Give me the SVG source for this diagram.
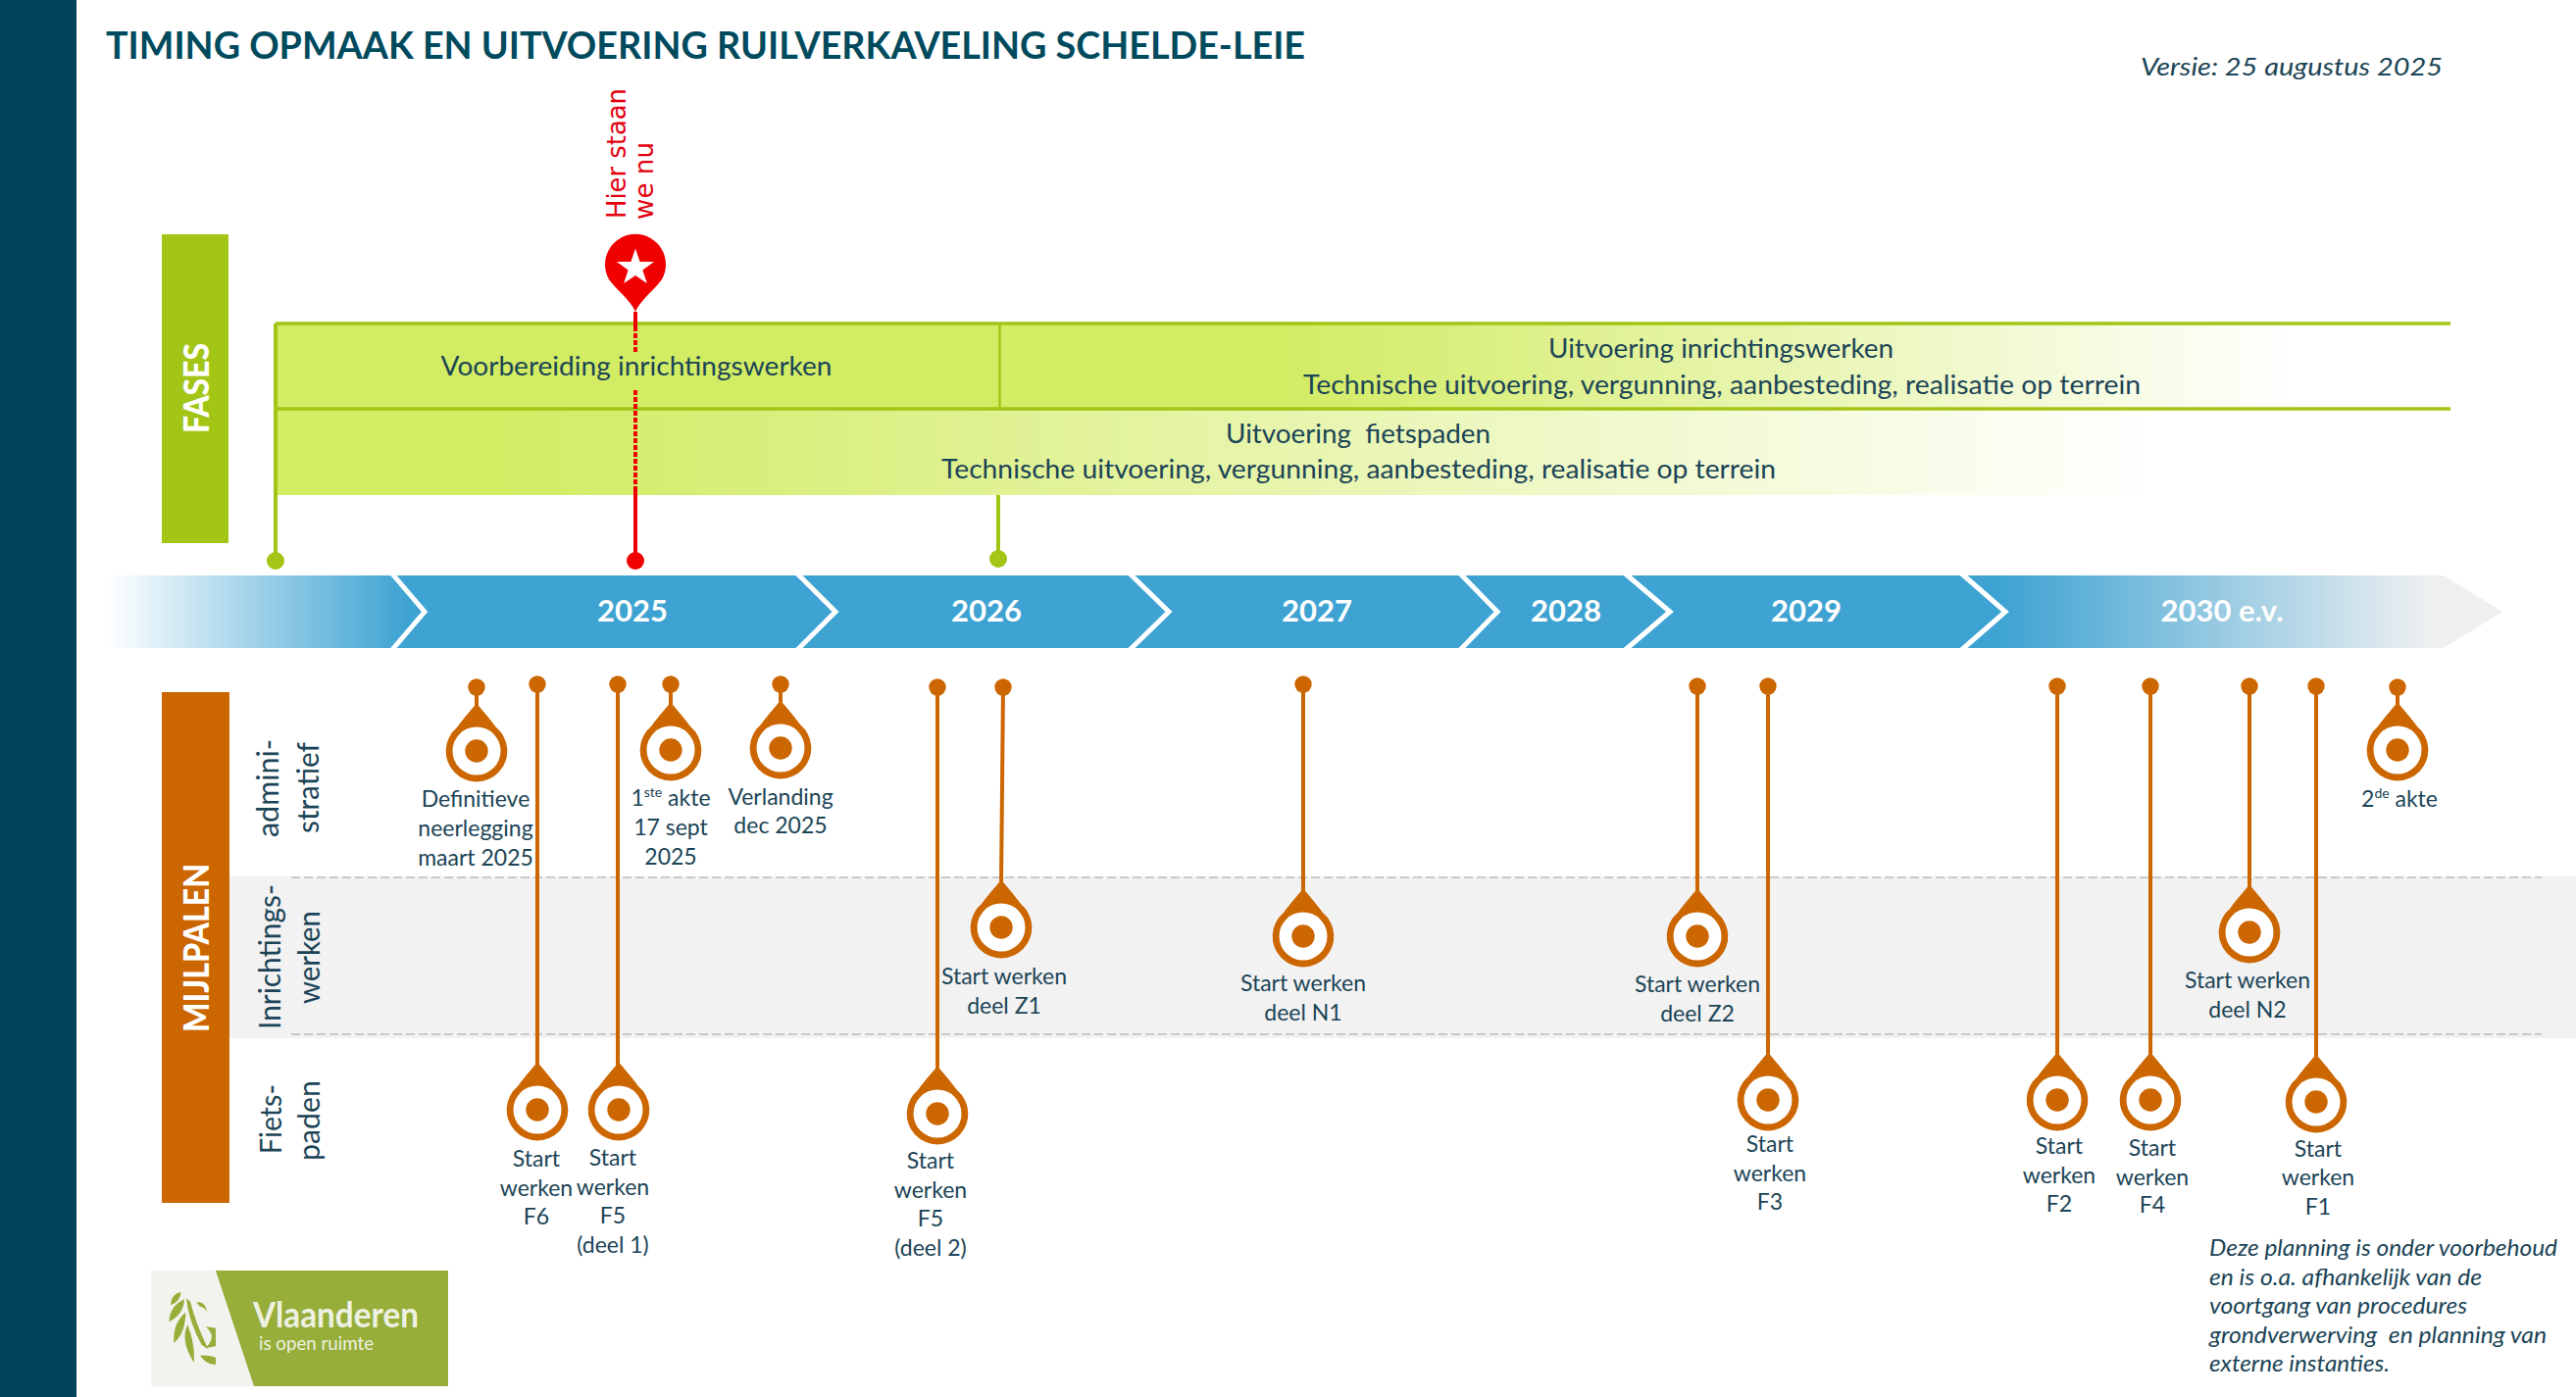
<svg xmlns="http://www.w3.org/2000/svg" width="2627" height="1425" viewBox="0 0 2627 1425">
<style>
text{font-family:Lato,"Liberation Sans",sans-serif;fill:#1b4456}
.lab{font-size:23px;text-anchor:middle}
.band{font-size:27px;white-space:pre}
.row{font-size:30px}
.year{font-size:31px;font-weight:700;fill:#fff;text-anchor:middle}
.note{font-size:22.5px;font-style:italic}
.org{stroke:#cc6600;stroke-width:4;fill:none}
.dot{fill:#cc6600}
.chev{fill:none;stroke:#fff;stroke-width:5}
.grn{stroke:#a2c516;fill:none}
.red{stroke:#f00000;fill:none;stroke-width:4}
.dash{stroke:#c9c9c9;stroke-width:2;stroke-dasharray:9 4;fill:none}
</style>
<defs>
<linearGradient id="gArrow" gradientUnits="userSpaceOnUse" x1="110" y1="0" x2="2552" y2="0">
<stop offset="0" stop-color="#fff"/><stop offset="0.125" stop-color="#3ea3d2"/><stop offset="0.79" stop-color="#3ea3d2"/><stop offset="0.97" stop-color="#eef0f1"/><stop offset="1" stop-color="#efefef"/>
</linearGradient>
<linearGradient id="gBand1" gradientUnits="userSpaceOnUse" x1="1021" y1="0" x2="2340" y2="0">
<stop offset="0" stop-color="#d2ec64"/><stop offset="0.22" stop-color="#d2ec64"/><stop offset="1" stop-color="#fff"/>
</linearGradient>
<linearGradient id="gBand2" gradientUnits="userSpaceOnUse" x1="283" y1="0" x2="2200" y2="0">
<stop offset="0" stop-color="#d2ec64"/><stop offset="0.12" stop-color="#d2ec64"/><stop offset="1" stop-color="#fff"/>
</linearGradient>
<g id="pin">
<path class="dot" d="M0-49C5-42 12-35 20-24A31.300 31.300 0 1 1-20-24C-12-35-5-42 0-49Z"/>
<circle r="24.5" fill="#fff"/><circle r="11.7" class="dot"/>
</g>
</defs>

<rect id="sidebar" x="0" y="0" width="78" height="1425" fill="#00445b"/>
<text id="title" x="108" y="60" font-size="38" font-weight="700" style="fill:#004a5e" textLength="1223" lengthAdjust="spacingAndGlyphs">TIMING OPMAAK EN UITVOERING RUILVERKAVELING SCHELDE-LEIE</text>
<text id="versie" x="2183" y="77" font-size="26" font-style="italic" textLength="308" lengthAdjust="spacingAndGlyphs">Versie: 25 augustus 2025</text>

<g id="rows">
<rect x="234" y="894" width="2393" height="165" fill="#f2f2f2"/>
<path class="dash" d="M297 895H2592M297 1055H2592"/>
</g>

<g id="fases">
<rect x="165" y="239" width="68" height="315" fill="#a2c516"/>
<text transform="translate(213 442) rotate(-90)" font-size="36" font-weight="900" style="fill:#fff" textLength="92" lengthAdjust="spacingAndGlyphs">FASES</text>
</g>

<g id="bands">
<rect x="281" y="330" width="740" height="87" fill="#d2ec64"/>
<rect x="1020" y="330" width="1479" height="87" fill="url(#gBand1)"/>
<rect x="281" y="417" width="2218" height="88" fill="url(#gBand2)"/>
<path class="grn" stroke-width="3.5" d="M281 330H2499M281 417H2499"/>
<path class="grn" stroke-width="2.5" d="M1019.5 330V417"/>
<text class="band" x="449.5" y="383" textLength="399" lengthAdjust="spacingAndGlyphs">Voorbereiding inrichtingswerken</text>
<text class="band" x="1579" y="365" textLength="352" lengthAdjust="spacingAndGlyphs">Uitvoering inrichtingswerken</text>
<text class="band" x="1329" y="402" textLength="854" lengthAdjust="spacingAndGlyphs">Technische uitvoering, vergunning, aanbesteding, realisatie op terrein</text>
<text class="band" x="1250" y="452" textLength="270" lengthAdjust="spacingAndGlyphs">Uitvoering  fietspaden</text>
<text class="band" x="960" y="488" textLength="851" lengthAdjust="spacingAndGlyphs">Technische uitvoering, vergunning, aanbesteding, realisatie op terrein</text>
</g>

<g id="timeline">
<path d="M110 587H2492L2552 624L2492 661H110Z" fill="url(#gArrow)"/>
<path class="chev" d="M398 583L433 624L398 665M811 583L852 624L811 665M1150 583L1192 624L1150 665M1487 583L1527 624L1487 665M1655 583L1703 624L1655 665M1998 583L2045 624L1998 665"/>
<text class="year" x="645" y="634">2025</text>
<text class="year" x="1006" y="634">2026</text>
<text class="year" x="1343" y="634">2027</text>
<text class="year" x="1597" y="634">2028</text>
<text class="year" x="1842" y="634">2029</text>
<text class="year" x="2266" y="634">2030 e.v.</text>
</g>

<g id="connectors">
<g class="grn" stroke-width="4">
<path d="M281 330V571"/><path d="M1018 505V570"/>
</g>
<circle cx="281" cy="572" r="9" fill="#a2c516"/>
<circle cx="1018" cy="570" r="9" fill="#a2c516"/>
<path class="red" d="M648 318V333"/>
<path class="red" stroke-dasharray="5 2" d="M648 333V359M648 398V501"/>
<path class="red" d="M648 501V570"/>
<circle cx="648" cy="572" r="9" fill="#f00000"/>
<g>
<path class="org" stroke-width="3" d="M486 701V720"/><circle class="dot" cx="486" cy="701" r="8.7"/>
<path class="org" d="M548 698V1090"/><circle class="dot" cx="548" cy="698" r="8.7"/>
<path class="org" d="M630 698V1090"/><circle class="dot" cx="630" cy="698" r="8.7"/>
<path class="org" stroke-width="3" d="M684 698V720"/><circle class="dot" cx="684" cy="698" r="8.7"/>
<path class="org" stroke-width="3" d="M796 698V720"/><circle class="dot" cx="796" cy="698" r="8.7"/>
<path class="org" d="M956 701V1092"/><circle class="dot" cx="956" cy="701" r="8.7"/>
<path class="org" d="M1023 701L1021 902"/><circle class="dot" cx="1023" cy="701" r="8.7"/>
<path class="org" d="M1329 698V910"/><circle class="dot" cx="1329" cy="698" r="8.7"/>
<path class="org" d="M1731 700V910"/><circle class="dot" cx="1731" cy="700" r="8.7"/>
<path class="org" d="M1803 700V1080"/><circle class="dot" cx="1803" cy="700" r="8.7"/>
<path class="org" d="M2098 700V1080"/><circle class="dot" cx="2098" cy="700" r="8.7"/>
<path class="org" d="M2193 700V1080"/><circle class="dot" cx="2193" cy="700" r="8.7"/>
<path class="org" d="M2294 700V905"/><circle class="dot" cx="2294" cy="700" r="8.7"/>
<path class="org" d="M2362 700V1080"/><circle class="dot" cx="2362" cy="700" r="8.7"/>
<path class="org" stroke-width="3" d="M2445 701V720"/><circle class="dot" cx="2445" cy="701" r="8.7"/>
</g>
</g>

<g id="marker-nu">
<path d="M648 318C643 306 628 295 621 285A31 31 0 1 1 675 285C668 295 653 306 648 318Z" fill="#f00000"/>
<path fill="#fff" d="M648 253.500L652.600 267 667 267 655.400 275.500 659.800 289 648 281 636.200 289 640.600 275.500 629 267 643.400 267Z"/>
<text transform="translate(638 223) rotate(-90)" font-size="26" style="font-family:'DejaVu Sans',sans-serif;fill:#e3000f" textLength="133" lengthAdjust="spacingAndGlyphs">Hier staan</text>
<text transform="translate(666 224) rotate(-90)" font-size="26" style="font-family:'DejaVu Sans',sans-serif;fill:#e3000f" textLength="79" lengthAdjust="spacingAndGlyphs">we nu</text>
</g>

<g id="mijlpalen">
<rect x="165" y="706" width="69" height="521" fill="#cc6600"/>
<text transform="translate(213 1053) rotate(-90)" font-size="36" font-weight="900" style="fill:#fff" textLength="172" lengthAdjust="spacingAndGlyphs">MIJLPALEN</text>
</g>

<g id="row-labels">
<text class="row" transform="translate(284 854) rotate(-90)" textLength="100" lengthAdjust="spacingAndGlyphs">admini-</text>
<text class="row" transform="translate(325 850) rotate(-90)" textLength="93" lengthAdjust="spacingAndGlyphs">stratief</text>
<text class="row" transform="translate(286 1050) rotate(-90)" textLength="148" lengthAdjust="spacingAndGlyphs">Inrichtings-</text>
<text class="row" transform="translate(326 1024) rotate(-90)" textLength="95" lengthAdjust="spacingAndGlyphs">werken</text>
<text class="row" transform="translate(287 1177) rotate(-90)" textLength="71" lengthAdjust="spacingAndGlyphs">Fiets-</text>
<text class="row" transform="translate(326 1184) rotate(-90)" textLength="82" lengthAdjust="spacingAndGlyphs">paden</text>
</g>

<g id="m-definitieve"><use href="#pin" x="486" y="766"/><text class="lab"><tspan x="485" y="823">Definitieve</tspan><tspan x="485" y="853">neerlegging</tspan><tspan x="485" y="883">maart 2025</tspan></text></g>
<g id="m-f6"><use href="#pin" x="548" y="1132"/><text class="lab"><tspan x="547" y="1190">Start</tspan><tspan x="547" y="1220">werken</tspan><tspan x="547" y="1249">F6</tspan></text></g>
<g id="m-f5-1"><use href="#pin" x="631" y="1132"/><text class="lab"><tspan x="625" y="1189">Start</tspan><tspan x="625" y="1219">werken</tspan><tspan x="625" y="1248">F5</tspan><tspan x="625" y="1278">(deel 1)</tspan></text></g>
<g id="m-akte1"><use href="#pin" x="684" y="765"/><text class="lab"><tspan x="684" y="822">1<tspan font-size="14" dy="-9">ste</tspan><tspan dy="9"> akte</tspan></tspan><tspan x="684" y="852">17 sept</tspan><tspan x="684" y="882">2025</tspan></text></g>
<g id="m-verlanding"><use href="#pin" x="796" y="763"/><text class="lab"><tspan x="796" y="821">Verlanding</tspan><tspan x="796" y="850">dec 2025</tspan></text></g>
<g id="m-f5-2"><use href="#pin" x="956" y="1136"/><text class="lab"><tspan x="949" y="1192">Start</tspan><tspan x="949" y="1222">werken</tspan><tspan x="949" y="1251">F5</tspan><tspan x="949" y="1281">(deel 2)</tspan></text></g>
<g id="m-z1"><use href="#pin" x="1021" y="946"/><text class="lab"><tspan x="1024" y="1004">Start werken</tspan><tspan x="1024" y="1034">deel Z1</tspan></text></g>
<g id="m-n1"><use href="#pin" x="1329" y="955"/><text class="lab"><tspan x="1329" y="1011">Start werken</tspan><tspan x="1329" y="1041">deel N1</tspan></text></g>
<g id="m-z2"><use href="#pin" x="1731" y="955"/><text class="lab"><tspan x="1731" y="1012">Start werken</tspan><tspan x="1731" y="1042">deel Z2</tspan></text></g>
<g id="m-f3"><use href="#pin" x="1803" y="1122"/><text class="lab"><tspan x="1805" y="1175">Start</tspan><tspan x="1805" y="1205">werken</tspan><tspan x="1805" y="1234">F3</tspan></text></g>
<g id="m-f2"><use href="#pin" x="2098" y="1122"/><text class="lab"><tspan x="2100" y="1177">Start</tspan><tspan x="2100" y="1207">werken</tspan><tspan x="2100" y="1236">F2</tspan></text></g>
<g id="m-f4"><use href="#pin" x="2193" y="1122"/><text class="lab"><tspan x="2195" y="1179">Start</tspan><tspan x="2195" y="1209">werken</tspan><tspan x="2195" y="1237">F4</tspan></text></g>
<g id="m-n2"><use href="#pin" x="2294" y="951"/><text class="lab"><tspan x="2292" y="1008">Start werken</tspan><tspan x="2292" y="1038">deel N2</tspan></text></g>
<g id="m-f1"><use href="#pin" x="2362" y="1124"/><text class="lab"><tspan x="2364" y="1180">Start</tspan><tspan x="2364" y="1209">werken</tspan><tspan x="2364" y="1239">F1</tspan></text></g>
<g id="m-akte2"><use href="#pin" x="2445" y="765"/><text class="lab"><tspan x="2447" y="823">2<tspan font-size="14" dy="-9">de</tspan><tspan dy="9"> akte</tspan></tspan></text></g>

<g id="note">
<text class="note" x="2253" y="1281" textLength="355" lengthAdjust="spacingAndGlyphs">Deze planning is onder voorbehoud</text>
<text class="note" x="2253" y="1311" textLength="278" lengthAdjust="spacingAndGlyphs">en is o.a. afhankelijk van de</text>
<text class="note" x="2253" y="1340" textLength="263" lengthAdjust="spacingAndGlyphs">voortgang van procedures</text>
<text class="note" x="2253" y="1370" textLength="344" lengthAdjust="spacingAndGlyphs" style="white-space:pre">grondverwerving  en planning van</text>
<text class="note" x="2253" y="1399" textLength="184" lengthAdjust="spacingAndGlyphs">externe instanties.</text>
</g>

<g id="logo">
<rect x="154" y="1296" width="303" height="118" fill="#f2f3ee"/>
<path d="M220 1296H457V1414H259Z" fill="#97ae3a"/>
<g transform="translate(154 1296) scale(.3333)" fill="#97ae3a">
<path d="M92 65Q60 72 60 106Q90 95 92 65Z"/>
<path d="M102 88Q58 108 55 157Q100 135 102 88Z"/>
<path d="M106 128Q66 160 70 222Q106 190 106 128Z"/>
<path d="M112 165Q88 215 132 282Q135 225 112 165Z"/>
<path d="M108 85Q115 155 155 228L175 240Q140 170 120 95Z"/>
<path d="M168 172L198 176V232L165 238Q186 222 186 198Q180 182 168 172Z"/>
<path d="M150 260Q175 258 198 266V288Q168 287 150 260Z"/>
<path d="M138 98Q165 90 172 128Q165 112 150 110Q145 102 138 98Z"/>
</g>
<text x="258" y="1354" font-size="36" font-weight="700" style="fill:#eef1e2" textLength="169" lengthAdjust="spacingAndGlyphs">Vlaanderen</text>
<text x="264" y="1377" font-size="19.500" style="fill:#eef1e2" textLength="117" lengthAdjust="spacingAndGlyphs">is open ruimte</text>
</g>
</svg>
